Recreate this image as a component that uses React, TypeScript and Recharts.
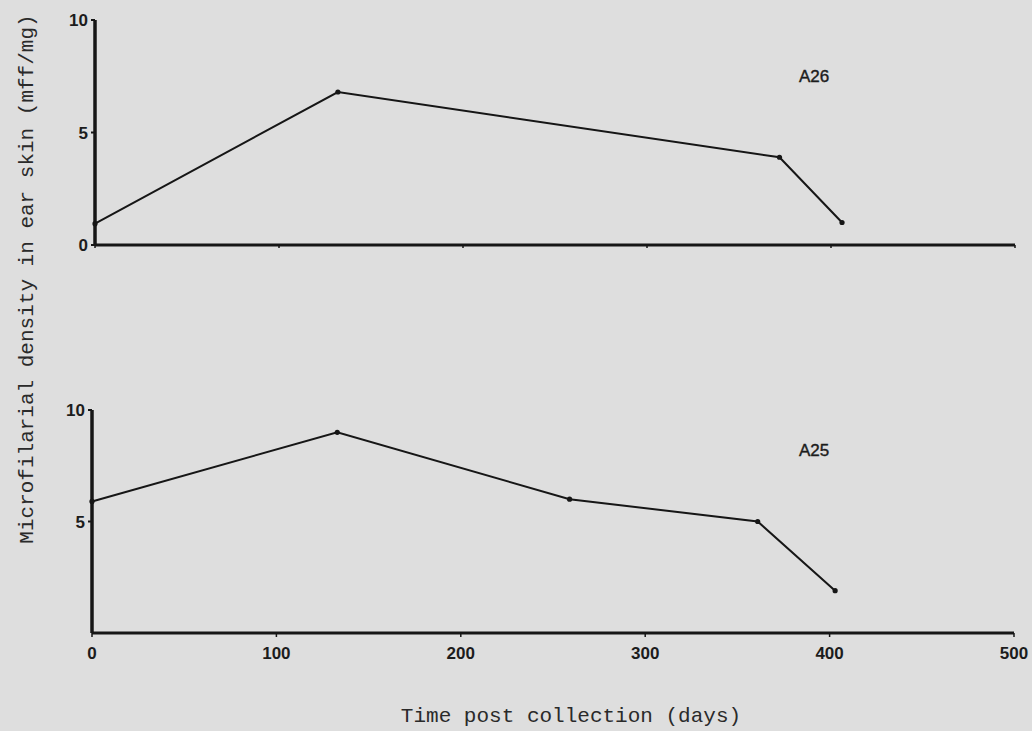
import React from "react";
import { LineChart, Line, XAxis, YAxis } from "recharts";

const daysA26 = [0, 132, 372, 406];
const valuesA26 = [0.95, 6.8, 3.9, 1.0];
const daysA25 = [0, 133, 259, 361, 403];
const valuesA25 = [5.9, 9.0, 6.0, 5.0, 1.9];
const xTicks = [0, 100, 200, 300, 400, 500];
const yTicksTop = [0, 5, 10];
const yTicksBottom = [5, 10];
const yLabel = "Microfilarial density in ear skin (mff/mg)";
const xLabel = "Time post collection (days)";

const dataA26 = daysA26.map((d, i) => ({ day: d, value: valuesA26[i] }));
const dataA25 = daysA25.map((d, i) => ({ day: d, value: valuesA25[i] }));

const INK = "#161616";
const tickStyle = { fontFamily: "'Liberation Sans', Arial, sans-serif", fontSize: 17, fontWeight: 700, fill: "#1c1c1c" };

const dot = (props: any) => {
  const { cx, cy, key } = props;
  return <circle key={key} cx={cx} cy={cy} r={2.6} fill={INK} />;
};

export default function App() {
  return (
    <div style={{ position: "absolute", left: 0, top: 0, width: 1032, height: 731, background: "#dedede", overflow: "hidden" }}>
      <div style={{ position: "absolute", left: 0, top: 0 }}>
        <LineChart width={1032} height={280} data={dataA26} margin={{ top: 20, right: 17, left: 0, bottom: 5 }}>
          <XAxis
            dataKey="day"
            type="number"
            domain={[0, 500]}
            ticks={xTicks}
            height={30}
            axisLine={{ stroke: INK, strokeWidth: 3 }}
            tickLine={{ stroke: INK, strokeWidth: 1.5 }}
            tickSize={3}
            tickFormatter={() => ""}
          />
          <YAxis
            type="number"
            domain={[0, 10]}
            ticks={yTicksTop}
            width={95}
            axisLine={{ stroke: INK, strokeWidth: 3.5 }}
            tickLine={{ stroke: INK, strokeWidth: 2 }}
            tickSize={4}
            tickMargin={3}
            tick={tickStyle}
          />
          <Line dataKey="value" stroke={INK} strokeWidth={2} dot={dot} isAnimationActive={false} />
        </LineChart>
      </div>
      <div style={{ position: "absolute", left: 0, top: 390 }}>
        <LineChart width={1032} height={300} data={dataA25} margin={{ top: 20, right: 18, left: 0, bottom: 17 }}>
          <XAxis
            dataKey="day"
            type="number"
            domain={[0, 500]}
            ticks={xTicks}
            height={40}
            axisLine={{ stroke: INK, strokeWidth: 3 }}
            tickLine={{ stroke: INK, strokeWidth: 1.5 }}
            tickSize={4}
            tickMargin={10}
            tick={tickStyle}
          />
          <YAxis
            type="number"
            domain={[0, 10]}
            ticks={yTicksBottom}
            width={92}
            axisLine={{ stroke: INK, strokeWidth: 3.5 }}
            tickLine={{ stroke: INK, strokeWidth: 2 }}
            tickSize={4}
            tickMargin={3}
            tick={tickStyle}
          />
          <Line dataKey="value" stroke={INK} strokeWidth={2} dot={dot} isAnimationActive={false} />
        </LineChart>
      </div>
      <div style={{ position: "absolute", left: 794, top: 66, width: 40, textAlign: "center", fontFamily: "'Liberation Sans', Arial, sans-serif", fontSize: 17, color: "#1c1c1c", WebkitTextStroke: "0.4px #1c1c1c", lineHeight: "22px" }}>A26</div>
      <div style={{ position: "absolute", left: 794, top: 440, width: 40, textAlign: "center", fontFamily: "'Liberation Sans', Arial, sans-serif", fontSize: 17, color: "#1c1c1c", WebkitTextStroke: "0.4px #1c1c1c", lineHeight: "22px" }}>A25</div>
      <div style={{ position: "absolute", left: 28 - 300, top: 279 - 13, width: 600, height: 26, textAlign: "center", transform: "rotate(-90deg)", transformOrigin: "50% 50%", fontFamily: "'Liberation Mono', 'Courier New', monospace", fontSize: 21, lineHeight: "26px", color: "#2a2a2a", whiteSpace: "nowrap" }}>{yLabel}</div>
      <div style={{ position: "absolute", left: 571 - 300, top: 704, width: 600, textAlign: "center", fontFamily: "'Liberation Mono', 'Courier New', monospace", fontSize: 21, lineHeight: "26px", color: "#2a2a2a", whiteSpace: "nowrap" }}>{xLabel}</div>
    </div>
  );
}
